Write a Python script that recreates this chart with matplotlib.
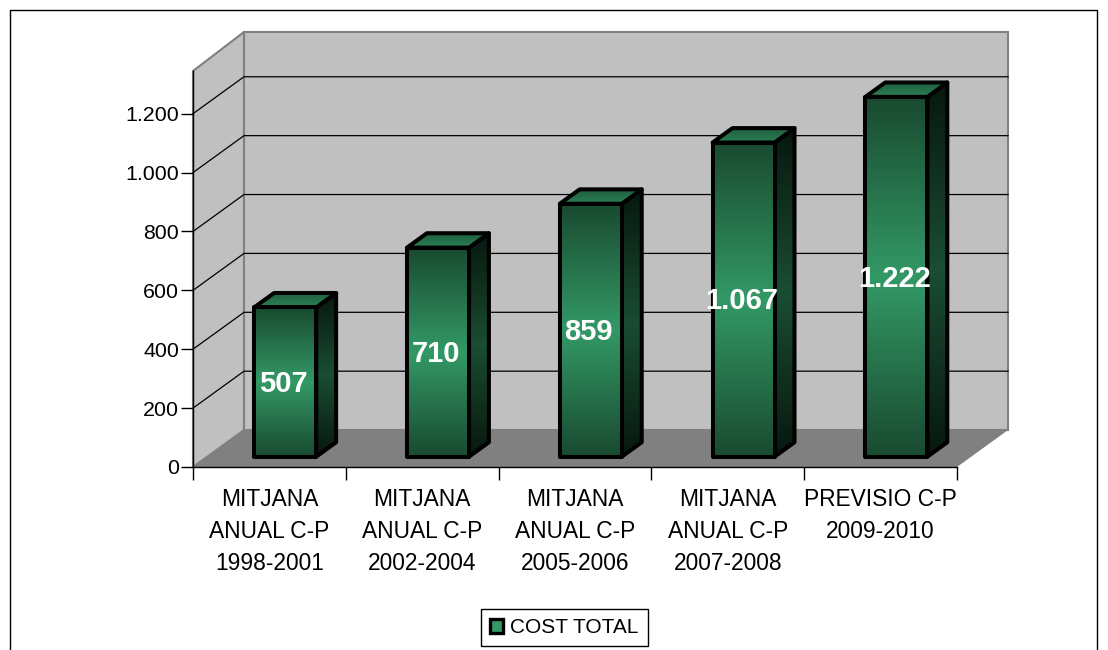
import numpy as np
import matplotlib
matplotlib.use("Agg")
import matplotlib.pyplot as plt
from matplotlib.colors import LinearSegmentedColormap
from matplotlib.patches import Polygon, Patch

plt.rcParams['font.family'] = ['Liberation Sans', 'DejaVu Sans']

categories = ["MITJANA\nANUAL C-P\n1998-2001", "MITJANA\nANUAL C-P\n2002-2004",
              "MITJANA\nANUAL C-P\n2005-2006", "MITJANA\nANUAL C-P\n2007-2008",
              "PREVISIO C-P\n2009-2010"]
values = [507, 710, 859, 1067, 1222]
value_labels = ["507", "710", "859", "1.067", "1.222"]
y_ticks = [0, 200, 400, 600, 800, 1000, 1200]
y_tick_labels = ["0", "200", "400", "600", "800", "1.000", "1.200"]
series_name = "COST TOTAL"

W, H = 1108, 650
Y_TOP = 1345
BACK_TOP = 1352
# depth of the fake 3d box, in data units
DX = 51 / 152.8
DY = 37 / 0.295
BAR_W = 0.406
BAR_FRONT = 0.28
BAR_BACK = 0.67

front_cmap = LinearSegmentedColormap.from_list("front", ["#194a30", "#339966", "#194a30"])
side_cmap = LinearSegmentedColormap.from_list("side", ["#07170e", "#1a4d33", "#07170e"])
top_cmap = LinearSegmentedColormap.from_list("top", ["#1f5f3e", "#2a8055"])

fig = plt.figure(figsize=(W / 100, H / 100), dpi=100)
ax = fig.add_axes([193 / W, 1 - 467 / H, (957 - 193) / W, (467 - 71) / H])
ax.patch.set_visible(False)

# outer chart border, runs off the bottom of the picture
fig.add_artist(plt.Line2D([10 / W, 10 / W, 1097 / W, 1097 / W],
                          [0, 1 - 9.5 / H, 1 - 9.5 / H, 0], color="black", lw=1))


def gradient(pts, cmap, z):
    pts = np.array(pts)
    xmin, xmax = pts[:, 0].min(), pts[:, 0].max()
    ymin, ymax = pts[:, 1].min(), pts[:, 1].max()
    grad = np.linspace(0, 1, 256).reshape(-1, 1)
    im = ax.imshow(grad, cmap=cmap, extent=(xmin, xmax, ymin, ymax), aspect="auto",
                   origin="upper", zorder=z)
    poly = Polygon(pts, closed=True, transform=ax.transData, fc="none", ec="black",
                   lw=2.9, joinstyle="round", zorder=z + 0.1, clip_on=False)
    ax.add_patch(poly)
    im.set_clip_path(poly)


n = len(values)
# walls and floor
ax.add_patch(Polygon([(0, 0), (DX, DY), (DX, BACK_TOP + DY), (0, Y_TOP)], fc="#c0c0c0", ec="#808080", lw=1.5, zorder=1, clip_on=False))
ax.add_patch(Polygon([(DX, DY), (n + DX, DY), (n + DX, BACK_TOP + DY), (DX, BACK_TOP + DY)], fc="#c0c0c0", ec="#808080", lw=1.5, zorder=1, clip_on=False))
ax.add_patch(Polygon([(0, 0), (n, 0), (n + DX, DY), (DX, DY)], fc="#808080", ec="none", zorder=1.1, clip_on=False))

# gridlines on the walls
for t in y_ticks[1:]:
    ax.plot([0, DX, n + DX], [t, t + DY, t + DY], color="black", lw=0.9, zorder=2, clip_on=False)

for i, v in enumerate(values):
    x0 = i + 0.5 - BAR_W / 2 + BAR_FRONT * DX + 0.01
    x1 = x0 + BAR_W
    y0 = BAR_FRONT * DY
    y1 = y0 + v
    ddx = (BAR_BACK - BAR_FRONT) * DX
    ddy = (BAR_BACK - BAR_FRONT) * DY
    z = 3 + i
    gradient([(x1, y0), (x1 + ddx, y0 + ddy), (x1 + ddx, y1 + ddy), (x1, y1)], side_cmap, z)
    gradient([(x0, y1), (x1, y1), (x1 + ddx, y1 + ddy), (x0 + ddx, y1 + ddy)], top_cmap, z + 0.2)
    gradient([(x0, y0), (x1, y0), (x1, y1), (x0, y1)], front_cmap, z + 0.4)
    ax.text((x0 + x1) / 2 - 0.015, y0 + v / 2 - 6, value_labels[i], color="white", fontsize=21,
            fontweight="bold", ha="center", va="center", zorder=20)

ax.set_xlim(0, n)
ax.set_ylim(0, Y_TOP)
ax.set_yticks(y_ticks)
ax.set_yticklabels(y_tick_labels, fontsize=15.4)
ax.set_xticks(np.arange(n + 1))
ax.set_xticklabels([])
ax.set_xticks(np.arange(n) + 0.5, categories, minor=True, fontsize=16.4, linespacing=1.5, ha="center", va="top")
ax.tick_params(axis="x", which="minor", length=0, pad=15)
ax.tick_params(axis="x", which="major", length=9, width=1)
ax.tick_params(axis="y", length=9, width=1, pad=1)
ax.spines["top"].set_visible(False)
ax.spines["right"].set_visible(False)
for s in ("left", "bottom"):
    ax.spines[s].set_linewidth(1)
    ax.spines[s].set_zorder(2.5)

handle = Patch(facecolor="#339966", edgecolor="black", linewidth=2.4, label=series_name)
fig.legend(handles=[handle], loc="center", bbox_to_anchor=(564.5 / W, 1 - 627.5 / H),
           fontsize=15, fancybox=False, framealpha=1, edgecolor="black", handlelength=0.6,
           handleheight=0.65, handletextpad=0.35, borderpad=0.45, borderaxespad=0)

fig.savefig("out.png", dpi=100)
